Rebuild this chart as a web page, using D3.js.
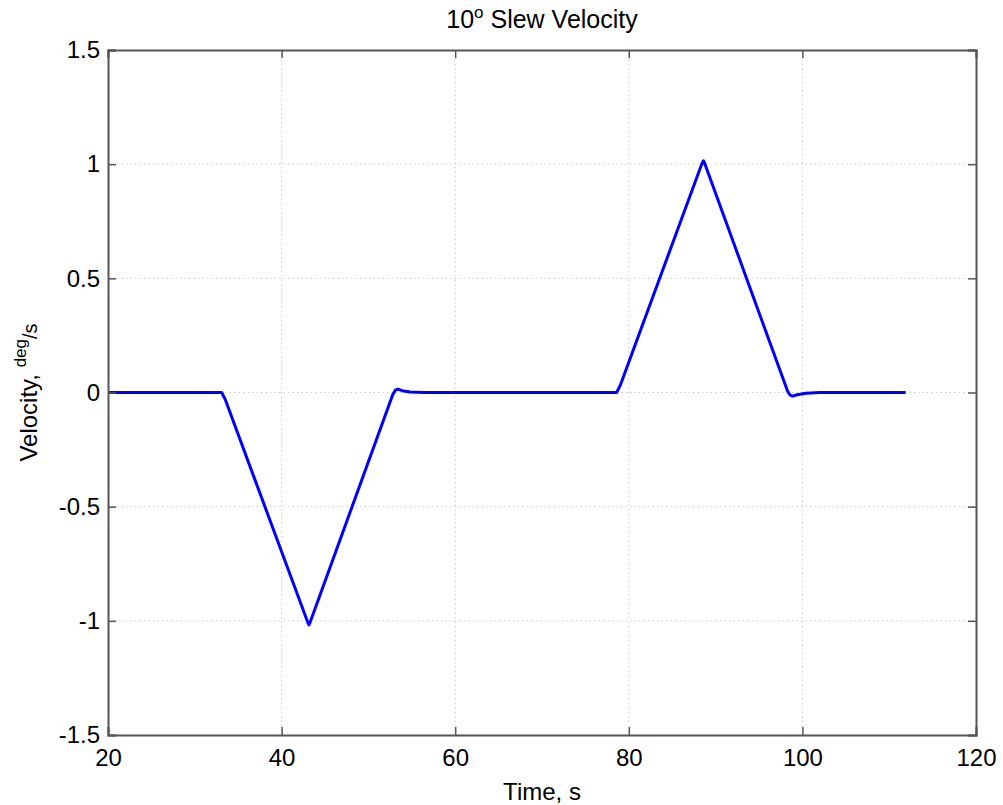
<!DOCTYPE html>
<meta charset="utf-8">
<html>
<head>
<script src="https://cdnjs.cloudflare.com/ajax/libs/d3/7.8.5/d3.min.js"></script>
<style type="text/css">
    body { margin: 0; background: #fff; }
    text { font-family: "Liberation Sans", Arial, sans-serif; fill: #000; }
    .grid line { stroke: #c8c8c8; stroke-dasharray: 1.5,3; }
</style>
</head>
<body>
<script type="text/javascript">

// slew velocity trace
var timeS = [20, 33.1, 33.5, 43.0, 43.15, 43.3, 52.8, 53.1, 53.4, 53.9, 54.8, 56.5,
             78.6, 79.0, 88.45, 88.6, 88.75, 98.3, 98.6, 98.85, 99.4, 100.4, 102, 111.9];
var velocity = [0, 0, -0.03, -1.005, -1.018, -1.005, -0.01, 0.01, 0.015, 0.008, 0.002, 0,
                0, 0.03, 1.005, 1.015, 1.003, 0.005, -0.012, -0.016, -0.01, -0.003, 0, 0];

var xTicks = [20, 40, 60, 80, 100, 120];
var yTicks = [-1.5, -1, -0.5, 0, 0.5, 1, 1.5];
var yTickLabels = ["-1.5", "-1", "-0.5", "0", "0.5", "1", "1.5"];

var W = 1003, H = 805;
var margin = {left: 108, top: 50, right: 27, bottom: 70};
var width = W - margin.left - margin.right,
    height = H - margin.top - margin.bottom;

var svg = d3.select("body").append("svg")
    .attr("width", W).attr("height", H);

var g = svg.append("g")
    .attr("transform", "translate(" + margin.left + "," + margin.top + ")");

var x = d3.scaleLinear().domain([20, 120]).range([0, width]);
var y = d3.scaleLinear().domain([-1.5, 1.5]).range([height, 0]);

// dotted grid
var grid = g.append("g").attr("class", "grid");
grid.selectAll(".gx").data(xTicks.slice(1, -1)).enter().append("line")
    .attr("x1", d => x(d)).attr("x2", d => x(d))
    .attr("y1", 0).attr("y2", height);
grid.selectAll(".gy").data(yTicks.slice(1, -1)).enter().append("line")
    .attr("x1", 0).attr("x2", width)
    .attr("y1", d => y(d)).attr("y2", d => y(d));

// trace
var pts = timeS.map((t, i) => [t, velocity[i]]);
g.append("path")
    .datum(pts)
    .attr("fill", "none")
    .attr("stroke", "#0000ff")
    .attr("stroke-width", 3)
    .attr("stroke-linejoin", "round")
    .attr("d", d3.line().x(d => x(d[0])).y(d => y(d[1])));

// axes: ticks point inwards, box around
var axisColor = "#555";
var xAxis = g.append("g").attr("transform", "translate(0," + height + ")")
    .call(d3.axisBottom(x).tickValues(xTicks).tickSize(-8).tickPadding(14));
var yAxis = g.append("g")
    .call(d3.axisLeft(y).tickValues(yTicks).tickSize(-8).tickPadding(8)
        .tickFormat((d, i) => yTickLabels[i]));
var xTop = g.append("g")
    .call(d3.axisTop(x).tickValues(xTicks).tickSize(-8).tickFormat(""));
var yRight = g.append("g").attr("transform", "translate(" + width + ",0)")
    .call(d3.axisRight(y).tickValues(yTicks).tickSize(-8).tickFormat(""));

[xAxis, yAxis, xTop, yRight].forEach(function(a) {
    a.selectAll("path").attr("stroke", axisColor).attr("stroke-width", 2);
    a.selectAll("line").attr("stroke", axisColor).attr("stroke-width", 1.5);
    a.selectAll("text").style("font-size", "24px")
        .style("font-family", "'Liberation Sans', Arial, sans-serif").attr("fill", "#000");
});

// title
var title = svg.append("text")
    .attr("x", margin.left + width / 2).attr("y", 28)
    .attr("text-anchor", "middle")
    .style("font-size", "25px");
title.append("tspan").text("10");
title.append("tspan").attr("dy", -10).style("font-size", "17px").text("o");
title.append("tspan").attr("dy", 10).text(" Slew Velocity");

// x label
svg.append("text")
    .attr("x", margin.left + width / 2).attr("y", 800)
    .attr("text-anchor", "middle")
    .style("font-size", "24px")
    .text("Time, s");

// y label
var ylab = svg.append("text")
    .attr("transform", "translate(37," + (margin.top + height / 2) + ") rotate(-90)")
    .attr("text-anchor", "middle")
    .style("font-size", "24px");
ylab.append("tspan").text("Velocity, ");
ylab.append("tspan").attr("dy", -11).style("font-size", "17px").text("deg");
ylab.append("tspan").attr("dy", 11).style("font-size", "20px").text("/s");

</script>
</body>
</html>
